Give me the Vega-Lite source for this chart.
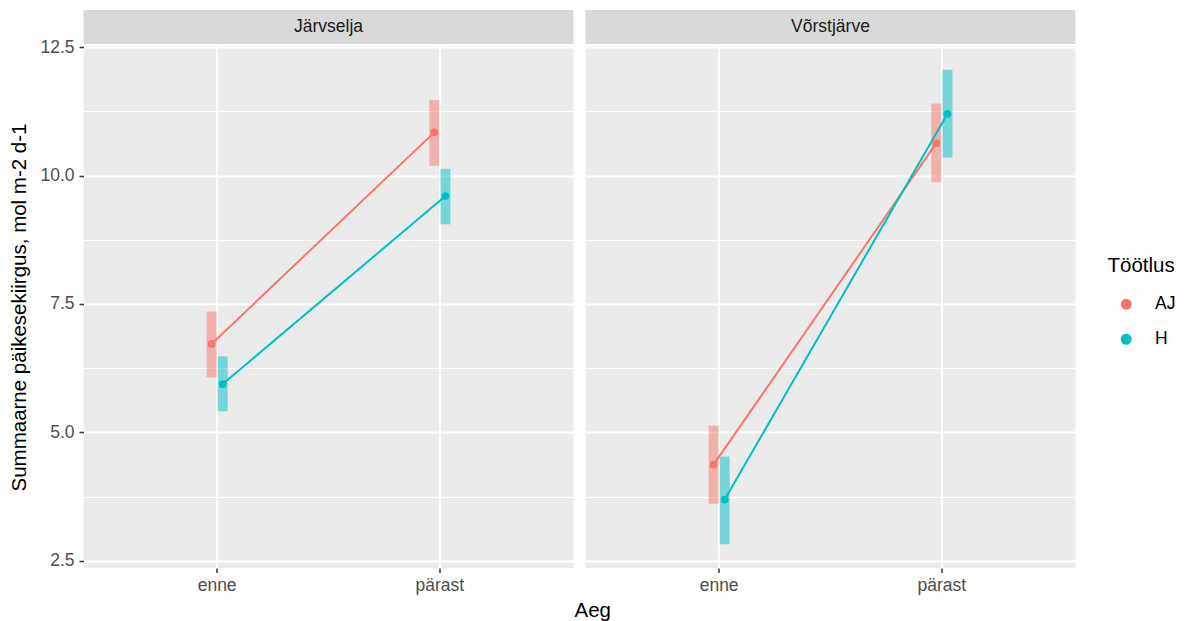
{
  "$schema": "https://vega.github.io/schema/vega-lite/v6.json",
  "background": "white",
  "padding": {"left": 9.5, "top": 10, "right": 5, "bottom": 0},
  "data": {"values": [
    {"site": "Järvselja", "Aeg": "enne", "Töötlus": "AJ", "mean": 6.72, "lo": 6.07, "hi": 7.35},
    {"site": "Järvselja", "Aeg": "enne", "Töötlus": "H", "mean": 5.94, "lo": 5.41, "hi": 6.48},
    {"site": "Järvselja", "Aeg": "pärast", "Töötlus": "AJ", "mean": 10.84, "lo": 10.19, "hi": 11.47},
    {"site": "Järvselja", "Aeg": "pärast", "Töötlus": "H", "mean": 9.6, "lo": 9.05, "hi": 10.13},
    {"site": "Võrstjärve", "Aeg": "enne", "Töötlus": "AJ", "mean": 4.37, "lo": 3.61, "hi": 5.13},
    {"site": "Võrstjärve", "Aeg": "enne", "Töötlus": "H", "mean": 3.69, "lo": 2.82, "hi": 4.53},
    {"site": "Võrstjärve", "Aeg": "pärast", "Töötlus": "AJ", "mean": 10.63, "lo": 9.87, "hi": 11.4},
    {"site": "Võrstjärve", "Aeg": "pärast", "Töötlus": "H", "mean": 11.2, "lo": 10.35, "hi": 12.06}
  ]},
  "title": {"text": "Aeg", "orient": "bottom", "anchor": "middle", "fontSize": 20.5, "fontWeight": "normal", "color": "black", "font": "Liberation Sans", "offset": 7},
  "spacing": 12,
  "hconcat": [
    {
      "spacing": 2,
      "bounds": "flush",
      "vconcat": [
        {
          "transform": [{"filter": "datum.site === 'Järvselja'"}, {"aggregate": [{"op": "count", "as": "n"}], "groupby": ["site"]}],
          "width": 490, "height": 34,
          "view": {"fill": "#D9D9D9", "stroke": null},
          "mark": {"type": "text", "fontSize": 17.5, "color": "#1A1A1A", "font": "Liberation Sans", "baseline": "middle", "align": "center"},
          "encoding": {"text": {"field": "site", "type": "nominal"}}
        },
        {
          "transform": [{"filter": "datum.site === 'Järvselja'"}],
          "width": 490, "height": 522,
          "view": {"fill": "#EBEBEB", "stroke": null},
          "encoding": {
            "x": {"field": "Aeg", "type": "nominal", "sort": ["enne", "pärast"], "scale": {"paddingInner": 0.9, "paddingOuter": 0.55},
                  "axis": {"title": null, "labelAngle": 0, "grid": true, "gridColor": "white", "gridWidth": 2, "bandPosition": 0.5, "domain": false, "tickBand": "center", "labelPadding": 4}},
            "xOffset": {"field": "Töötlus", "type": "nominal", "scale": {"paddingInner": 0, "paddingOuter": 0}},
            "color": {"field": "Töötlus", "type": "nominal", "scale": {"domain": ["AJ", "H"], "range": ["#F8766D", "#00BFC4"]},
                      "legend": {"orient": "none", "legendX": 1024, "legendY": 246, "title": "Töötlus"}}
          },
          "layer": [
            {
              "mark": {"type": "bar", "opacity": 0.5, "width": 10},
              "encoding": {
                "y": {"field": "lo", "type": "quantitative", "scale": {"domain": [2.358, 12.522], "nice": false, "zero": false},
                      "axis": {"values": [2.5, 5, 7.5, 10, 12.5], "format": ".1f", "grid": true, "gridColor": "white", "gridWidth": 2, "domain": false, "labelPadding": 5,
                               "title": "Summaarne päikesekiirgus, mol m-2 d-1", "titleFontSize": 20.5, "titleFontWeight": "normal", "titleColor": "black", "titlePadding": 10}},
                "y2": {"field": "hi"}
              }
            },
            {
              "mark": {"type": "line", "strokeWidth": 2},
              "encoding": {
                "y": {"field": "mean", "type": "quantitative",
                      "axis": {"values": [3.75, 6.25, 8.75, 11.25], "grid": true, "gridColor": "white", "gridWidth": 1, "labels": false, "ticks": false, "domain": false, "title": null}}
              }
            },
            {
              "mark": {"type": "point", "filled": true, "size": 60, "opacity": 1},
              "encoding": {"y": {"field": "mean", "type": "quantitative", "axis": null}}
            }
          ],
          "resolve": {"axis": {"y": "independent"}}
        }
      ]
    },
    {
      "spacing": 2,
      "bounds": "flush",
      "vconcat": [
        {
          "transform": [{"filter": "datum.site === 'Võrstjärve'"}, {"aggregate": [{"op": "count", "as": "n"}], "groupby": ["site"]}],
          "width": 490, "height": 34,
          "view": {"fill": "#D9D9D9", "stroke": null},
          "mark": {"type": "text", "fontSize": 17.5, "color": "#1A1A1A", "font": "Liberation Sans", "baseline": "middle", "align": "center"},
          "encoding": {"text": {"field": "site", "type": "nominal"}}
        },
        {
          "transform": [{"filter": "datum.site === 'Võrstjärve'"}],
          "width": 490, "height": 522,
          "view": {"fill": "#EBEBEB", "stroke": null},
          "encoding": {
            "x": {"field": "Aeg", "type": "nominal", "sort": ["enne", "pärast"], "scale": {"paddingInner": 0.9, "paddingOuter": 0.55},
                  "axis": {"title": null, "labelAngle": 0, "grid": true, "gridColor": "white", "gridWidth": 2, "bandPosition": 0.5, "domain": false, "tickBand": "center", "labelPadding": 4}},
            "xOffset": {"field": "Töötlus", "type": "nominal", "scale": {"paddingInner": 0, "paddingOuter": 0}},
            "color": {"field": "Töötlus", "type": "nominal", "scale": {"domain": ["AJ", "H"], "range": ["#F8766D", "#00BFC4"]},
                      "legend": {"orient": "none", "legendX": 1024, "legendY": 246, "title": "Töötlus"}}
          },
          "layer": [
            {
              "mark": {"type": "bar", "opacity": 0.5, "width": 10},
              "encoding": {
                "y": {"field": "lo", "type": "quantitative", "scale": {"domain": [2.358, 12.522], "nice": false, "zero": false},
                      "axis": {"values": [2.5, 5, 7.5, 10, 12.5], "grid": true, "gridColor": "white", "gridWidth": 2, "domain": false, "labels": false, "ticks": false, "title": null}},
                "y2": {"field": "hi"}
              }
            },
            {
              "mark": {"type": "line", "strokeWidth": 2},
              "encoding": {
                "y": {"field": "mean", "type": "quantitative",
                      "axis": {"values": [3.75, 6.25, 8.75, 11.25], "grid": true, "gridColor": "white", "gridWidth": 1, "labels": false, "ticks": false, "domain": false, "title": null}}
              }
            },
            {
              "mark": {"type": "point", "filled": true, "size": 60, "opacity": 1},
              "encoding": {"y": {"field": "mean", "type": "quantitative", "axis": null}}
            }
          ],
          "resolve": {"axis": {"y": "independent"}}
        }
      ]
    }
  ],
  "config": {
    "font": "Liberation Sans",
    "view": {"stroke": null},
    "axis": {"labelColor": "#4D4D4D", "labelFontSize": 17.5, "labelFont": "Liberation Sans", "tickColor": "#333333", "tickSize": 4.5, "tickWidth": 1.5, "titleFont": "Liberation Sans"},
    "legend": {"titleFontSize": 20.5, "titleFontWeight": "normal", "titleColor": "black", "labelFontSize": 17.5, "labelColor": "black", "symbolType": "circle", "symbolSize": 90, "symbolOpacity": 1, "rowPadding": 16, "titlePadding": 19, "labelOffset": 20, "symbolOffset": 10}
  }
}
